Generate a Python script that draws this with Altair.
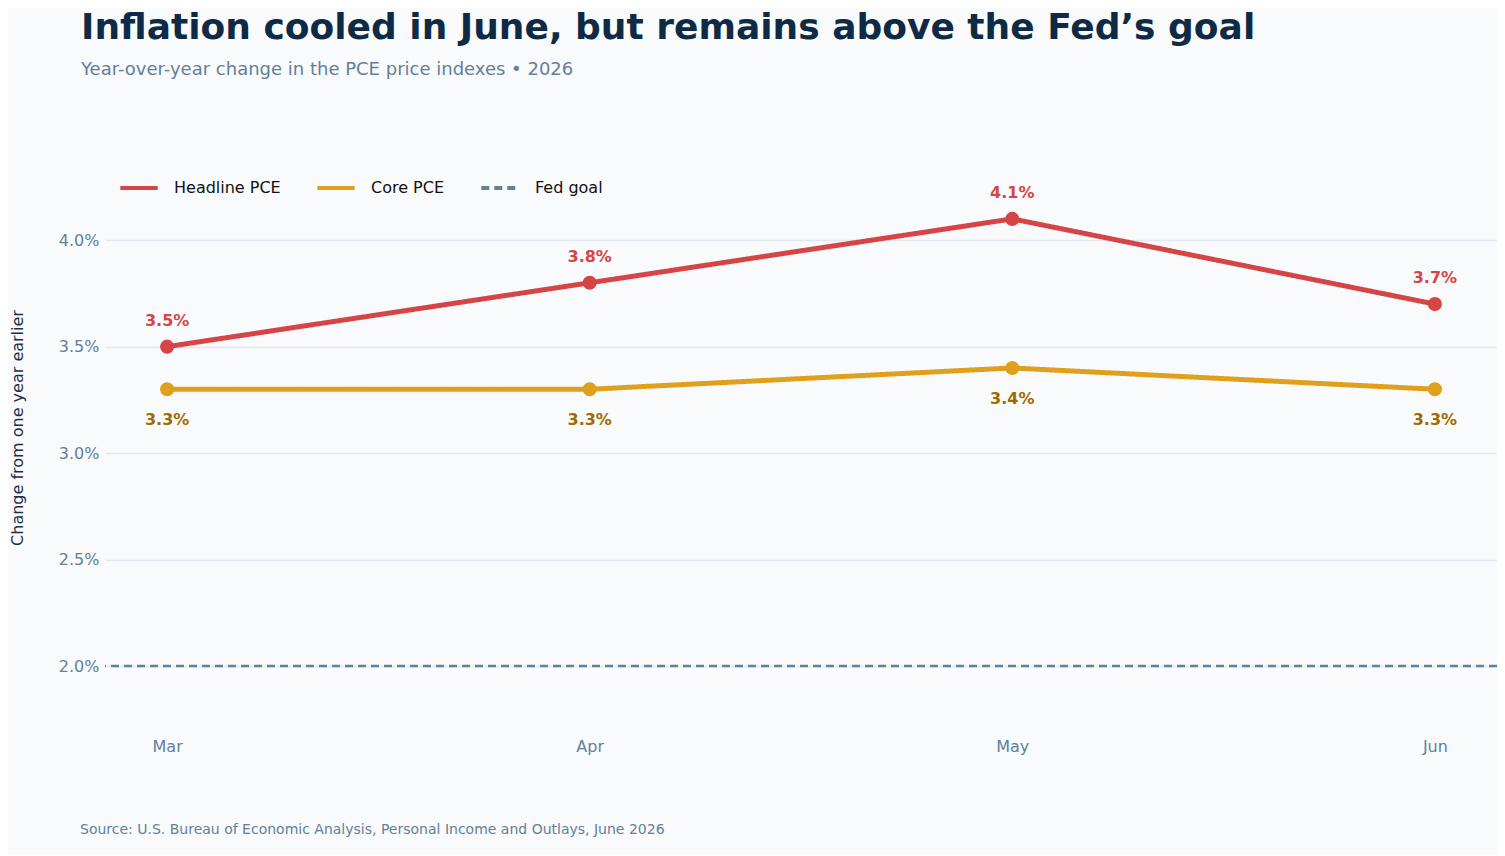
import altair as alt
import pandas as pd

months = ["Mar", "Apr", "May", "Jun"]
headline = [3.5, 3.8, 4.1, 3.7]
core = [3.3, 3.3, 3.4, 3.3]
fed_goal = 2.0

df = pd.DataFrame(
    [{"month": m, "value": v, "series": "Headline PCE"} for m, v in zip(months, headline)]
    + [{"month": m, "value": v, "series": "Core PCE"} for m, v in zip(months, core)]
)
df["label"] = df["value"].map(lambda v: f"{v:.1f}%")
fed = pd.DataFrame([{"value": fed_goal, "series": "Fed goal"}])

W, H = 1392, 575
series_dom = ["Headline PCE", "Core PCE", "Fed goal"]
color = alt.Color("series:N", scale=alt.Scale(domain=series_dom, range=["#d64545", "#e0a01c", "#64809a"]),
                  legend=alt.Legend(title=None, orient="none", legendX=13, legendY=12, direction="horizontal",
                                    symbolType="stroke", symbolStrokeWidth=4, symbolSize=1400,
                                    labelFontSize=16, labelColor="#111111", labelFont="DejaVu Sans",
                                    columnPadding=28, labelOffset=14))
dash = alt.StrokeDash("series:N", scale=alt.Scale(domain=series_dom, range=[[1, 0], [1, 0], [8, 5]]), legend=None)

x = alt.X("month:N", sort=months, scale=alt.Scale(type="point", padding=0.147), title=None,
          axis=alt.Axis(labelAngle=0, ticks=False, domain=False, grid=False, labelPadding=8,
                        labelFontSize=16, labelColor="#64809a", labelFont="DejaVu Sans"))
y = alt.Y("value:Q", scale=alt.Scale(domain=[1.7, 4.4], nice=False, zero=False),
          title="Change from one year earlier",
          axis=alt.Axis(values=[2.0, 2.5, 3.0, 3.5, 4.0], labelExpr="format(datum.value, '.1f') + '%'",
                        ticks=False, domain=False, gridColor="#e2e8f0", gridWidth=1.5,
                        labelFontSize=16, labelColor="#64809a", labelPadding=6, labelFont="DejaVu Sans",
                        titleFontSize=16, titleColor="#1e2f45", titleFontWeight="normal",
                        titleFont="DejaVu Sans", titleX=-80, titleY=H / 2 - 15, titleAngle=-90))

rule = alt.Chart(fed).mark_rule(strokeWidth=2.5).encode(y=alt.Y("value:Q"), color=color, strokeDash=dash)
lines = alt.Chart(df).mark_line(strokeWidth=5).encode(x=x, y=y, color=color, strokeDash=dash)
pts = alt.Chart(df).mark_circle(size=200, opacity=1).encode(x=x, y="value:Q", color=alt.Color("series:N", scale=alt.Scale(domain=series_dom), legend=None))
lab_h = alt.Chart(df[df.series == "Headline PCE"]).mark_text(dy=-26, fontSize=16, fontWeight="bold", color="#d64545", font="DejaVu Sans").encode(x=x, y="value:Q", text="label:N")
lab_c = alt.Chart(df[df.series == "Core PCE"]).mark_text(dy=31, fontSize=16, fontWeight="bold", color="#a06a00", font="DejaVu Sans").encode(x=x, y="value:Q", text="label:N")
src = alt.Chart(fed).mark_text(align="left", baseline="middle", fontSize=14, color="#64809a", font="DejaVu Sans").encode(
    x=alt.value(-25), y=alt.value(H + 100), text=alt.value("Source: U.S. Bureau of Economic Analysis, Personal Income and Outlays, June 2026"))

chart = alt.layer(rule, lines, pts, lab_h, lab_c, src).properties(
    width=W, height=H,
    autosize=alt.AutoSizeParams(type="none"),
    padding={"left": 97, "top": 147, "right": 0, "bottom": 124},
    background="#f8fafc",
    title=alt.TitleParams(text="Inflation cooled in June, but remains above the Fed’s goal",
                          subtitle="Year-over-year change in the PCE price indexes • 2026",
                          anchor="start", dx=72, offset=75, fontSize=36, fontWeight="bold",
                          color="#0f2a44", font="DejaVu Sans", subtitleFont="DejaVu Sans",
                          subtitleFontSize=18, subtitleColor="#64809a", subtitlePadding=14),
).configure_view(stroke=None)

chart.save("out.html", embed_options={"renderer": "svg", "actions": False})
